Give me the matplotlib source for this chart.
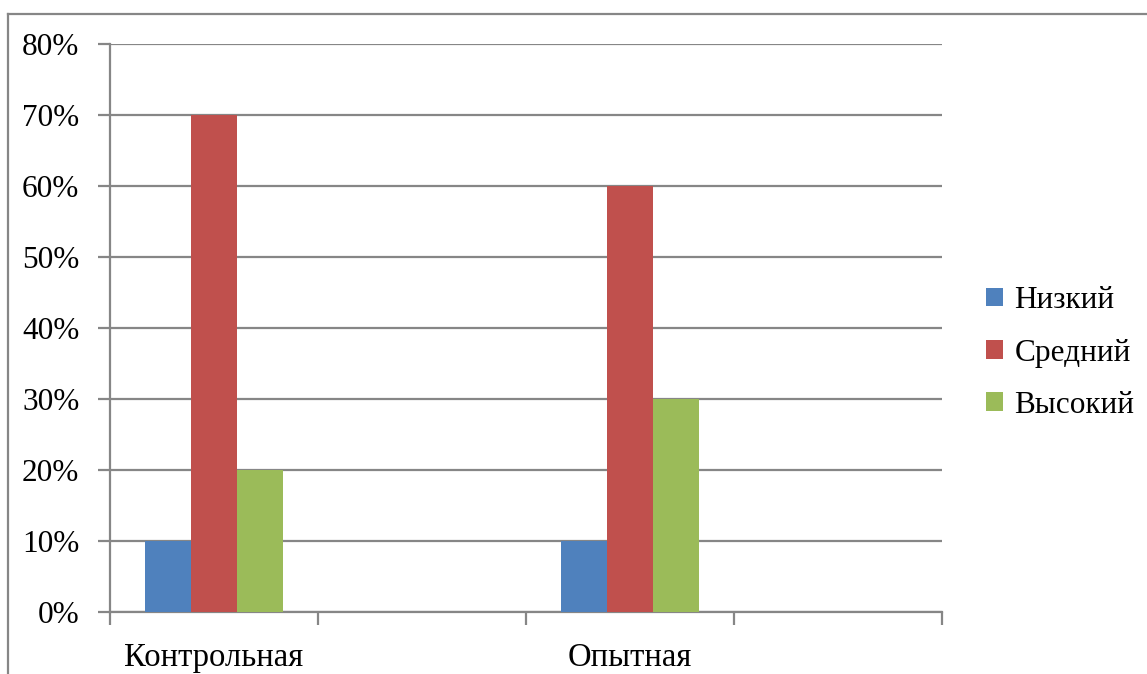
import matplotlib
matplotlib.use("Agg")
import matplotlib.pyplot as plt
from matplotlib.lines import Line2D
from matplotlib.patches import Patch
import numpy as np

plt.rcParams['font.family'] = ['Liberation Serif', 'DejaVu Serif']

# groups (two empty slots between/after, as in the source sheet)
groups = ["Контрольная", "", "Опытная", ""]
levels = ["Низкий", "Средний", "Высокий"]
low = [0.10, np.nan, 0.10, np.nan]
mid = [0.70, np.nan, 0.60, np.nan]
high = [0.20, np.nan, 0.30, np.nan]
colors = ["#4F81BD", "#C0504D", "#9BBB59"]
grid_col = "#868686"

W, H = 1147, 674
fig = plt.figure(figsize=(W / 100, H / 100), dpi=100)
ax = fig.add_axes([110 / W, 62 / H, 832 / W, 568 / H])

x = np.arange(len(groups))
bw = 0.222
for i, (vals, col) in enumerate(zip([low, mid, high], colors)):
    ax.bar(x + (i - 1) * bw, vals, width=bw, color=col, zorder=3, label=levels[i])

ax.set_xlim(-0.5, len(groups) - 0.5)
ax.set_ylim(0, 0.8)
ax.set_yticks(np.arange(0, 0.81, 0.1))
ax.set_yticklabels([f"{int(round(v * 100))}%" for v in np.arange(0, 0.81, 0.1)], fontsize=22.5)
ax.yaxis.grid(True, color=grid_col, linewidth=1.6, zorder=0)
ax.set_axisbelow(True)

# category boundaries as tick marks, labels at the centres
ax.set_xticks(np.arange(-0.5, len(groups)), minor=False)
ax.set_xticklabels([])
ax.set_xticks(x, minor=True)
ax.set_xticklabels(groups, minor=True, fontsize=23.5)
ax.tick_params(axis='x', which='minor', length=0, pad=22)
ax.tick_params(axis='x', which='major', length=9, width=1.6, color=grid_col, direction='out')
ax.tick_params(axis='y', length=9, width=1.6, color=grid_col, pad=13)

for s in ["top", "right"]:
    ax.spines[s].set_visible(False)
for s in ["left", "bottom"]:
    ax.spines[s].set_color(grid_col)
    ax.spines[s].set_linewidth(1.6)

handles = [Patch(facecolor=c, label=l) for c, l in zip(colors, levels)]
leg = fig.legend(handles=handles, loc="center left", bbox_to_anchor=(958 / W, 1 - 353 / H),
                 frameon=False, fontsize=22.5, handlelength=0.55, handleheight=0.55,
                 handletextpad=0.35, labelspacing=0.75)

# outer chart frame (top and left edges)
fig.add_artist(Line2D([8 / W, 8 / W], [0, 1 - 14 / H], transform=fig.transFigure,
                      color=grid_col, linewidth=1.6))
fig.add_artist(Line2D([8 / W, 1], [1 - 14 / H, 1 - 14 / H], transform=fig.transFigure,
                      color=grid_col, linewidth=1.6))

fig.savefig("out.png", dpi=100)
